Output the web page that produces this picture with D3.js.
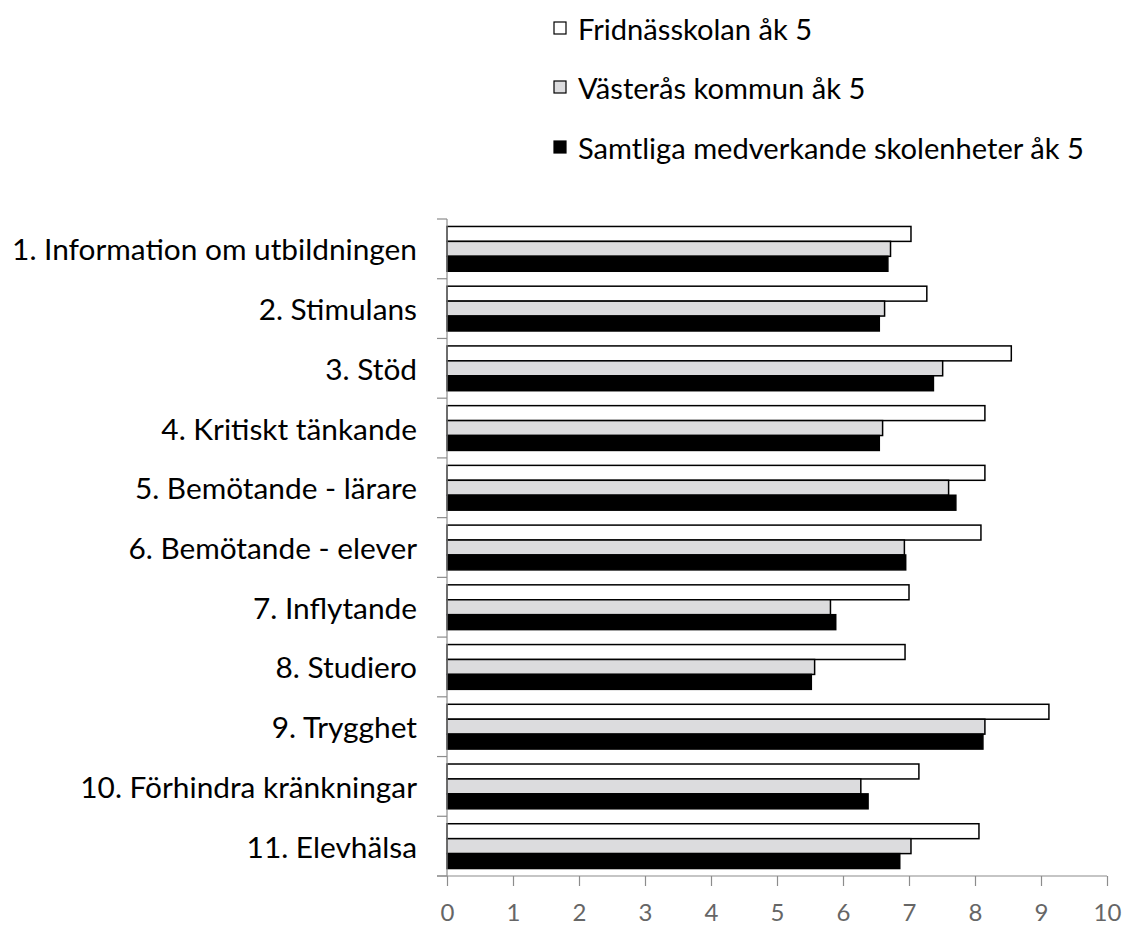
<!DOCTYPE html>
<html>
<head>
<meta charset="utf-8">
<script src="https://cdn.jsdelivr.net/npm/d3@7"></script>
<style>
  html, body { margin: 0; padding: 0; background: #fff; }
  svg { display: block; }
  text { font-family: Lato, "Open Sans", sans-serif; }
</style>
</head>
<body>
<svg id="chart" width="1124" height="926"></svg>
<script>
const categories = [
  "1. Information om utbildningen",
  "2. Stimulans",
  "3. Stöd",
  "4. Kritiskt tänkande",
  "5. Bemötande - lärare",
  "6. Bemötande - elever",
  "7. Inflytande",
  "8. Studiero",
  "9. Trygghet",
  "10. Förhindra kränkningar",
  "11. Elevhälsa"
];
const seriesNames = [
  "Fridnässkolan åk 5",
  "Västerås kommun åk 5",
  "Samtliga medverkande skolenheter åk 5"
];
const fridnas   = [7.03, 7.27, 8.55, 8.15, 8.15, 8.09, 7.00, 6.94, 9.12, 7.15, 8.06];
const vasteras  = [6.72, 6.63, 7.51, 6.60, 7.60, 6.93, 5.81, 5.57, 8.15, 6.27, 7.03];
const samtliga  = [6.68, 6.55, 7.37, 6.55, 7.71, 6.95, 5.89, 5.52, 8.12, 6.38, 6.86];
const seriesValues = [fridnas, vasteras, samtliga];
const seriesFill = ["#ffffff", "#dcdcde", "#000000"];
const xTicks = [0,1,2,3,4,5,6,7,8,9,10];

const svg = d3.select("#chart");
const pLeft = 447, pRight = 1107, pTop = 219, pBottom = 876;

const x = d3.scaleLinear().domain([0, 10]).range([pLeft, pRight]);
const y = d3.scaleBand().domain(categories).range([pTop, pBottom])
  .paddingInner(0.25).paddingOuter(0.125);
const ySub = d3.scaleBand().domain(d3.range(seriesNames.length)).range([0, y.bandwidth()]);

// bars
categories.forEach((c, i) => {
  const g = svg.append("g").attr("transform", `translate(0,${y(c)})`);
  seriesValues.forEach((vals, s) => {
    g.append("rect")
      .attr("x", x(0))
      .attr("y", ySub(s))
      .attr("width", x(vals[i]) - x(0))
      .attr("height", ySub.bandwidth())
      .attr("fill", seriesFill[s])
      .attr("stroke", "#000")
      .attr("stroke-width", 1.5);
  });
});

// y axis (category axis) with ticks between categories
const axisColor = "#8c8c8c";
svg.append("line").attr("x1", pLeft).attr("x2", pLeft).attr("y1", pTop).attr("y2", pBottom)
  .attr("stroke", axisColor).attr("stroke-width", 1.2);
const step = y.step();
d3.range(categories.length + 1).forEach(k => {
  const yy = pTop + k * step;
  svg.append("line").attr("x1", pLeft - 10).attr("x2", pLeft).attr("y1", yy).attr("y2", yy)
    .attr("stroke", axisColor).attr("stroke-width", 1.2);
});

// x axis
const xAxis = d3.axisBottom(x).tickValues(xTicks).tickSize(10).tickSizeOuter(0).tickFormat(d3.format("d"));
const gx = svg.append("g").attr("transform", `translate(0,${pBottom})`).call(xAxis);
gx.select(".domain").attr("stroke", axisColor).attr("stroke-width", 1.2)
  .attr("d", `M${pLeft - 10},0H${pRight}`);
gx.selectAll(".tick line").attr("stroke", axisColor).attr("stroke-width", 1.2);
gx.selectAll(".tick text")
  .attr("fill", "#666666")
  .attr("font-size", 24)
  .attr("font-family", "Lato, sans-serif")
  .attr("y", 0)
  .attr("dy", null)
  .attr("dominant-baseline", "central")
  .attr("transform", "translate(0,35)");

// category labels
const catLabels = svg.append("g").selectAll("text").data(categories).join("text")
  .attr("x", pLeft - 30)
  .attr("y", d => y(d) + y.bandwidth() / 2)
  .attr("text-anchor", "end")
  .attr("dominant-baseline", "central")
  .attr("fill", "#000")
  .attr("font-size", 25)
  .text(d => d);
const longest = catLabels.filter((d, i) => i === 0).node();
const w0 = longest.getComputedTextLength();
catLabels.attr("font-size", 25 * 405 / w0);

// legend
const legendY = [28, 87, 147];
const lg = svg.append("g");
seriesNames.forEach((name, s) => {
  lg.append("rect")
    .attr("x", 554).attr("y", legendY[s] - 6)
    .attr("width", 12).attr("height", 12)
    .attr("fill", seriesFill[s]).attr("stroke", "#000").attr("stroke-width", 1.2);
  lg.append("text")
    .attr("x", 578).attr("y", legendY[s])
    .attr("dominant-baseline", "central")
    .attr("fill", "#000")
    .attr("font-size", 22)
    .text(name);
});
const lt = lg.selectAll("text").filter((d, i) => i === 2).node();
const lw = lt.getComputedTextLength();
lg.selectAll("text").attr("font-size", 22 * 506 / lw);
</script>
</body>
</html>
